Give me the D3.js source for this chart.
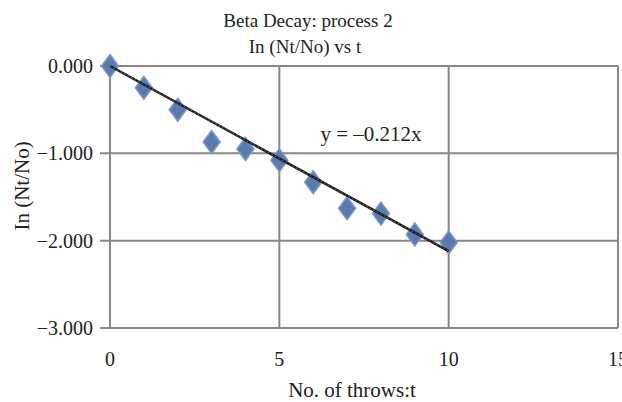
<!DOCTYPE html>
<html>
<head>
<meta charset="utf-8" />
<title>Beta Decay</title>
<script src="https://d3js.org/d3.v7.min.js"></script>
<style>
  body { margin: 0; background: #fff; }
  text { font-family: "Liberation Serif", "Times New Roman", serif; fill: #222; }
</style>
</head>
<body>
<script>
// data
var throws = [0, 1, 2, 3, 4, 5, 6, 7, 8, 9, 10];
var lnRatio = [0.00, -0.25, -0.50, -0.87, -0.95, -1.08, -1.33, -1.63, -1.69, -1.93, -2.02];
var slope = -0.212;
var xTicks = [0, 5, 10, 15];
var yTicks = [0, -1, -2, -3];

var width = 622, height = 402;
var plotL = 110, plotR = 618, plotT = 66, plotB = 328;

var svg = d3.select('body').append('svg')
    .attr('width', width)
    .attr('height', height);

var x = d3.scaleLinear().domain([0, 15]).range([plotL, plotR]);
var y = d3.scaleLinear().domain([-3, 0]).range([plotB, plotT]);
var fmt = d3.format('.3f');
var gridColor = '#8b8682';

// grid
svg.append('g').selectAll('line')
    .data(yTicks)
    .enter().append('line')
    .attr('x1', plotL - 10).attr('x2', plotR)
    .attr('y1', d => y(d)).attr('y2', d => y(d))
    .attr('stroke', gridColor).attr('stroke-width', 2);

svg.append('g').selectAll('line')
    .data(xTicks)
    .enter().append('line')
    .attr('x1', d => x(d)).attr('x2', d => x(d))
    .attr('y1', plotT).attr('y2', plotB)
    .attr('stroke', gridColor).attr('stroke-width', 2);

// tick labels
svg.append('g').selectAll('text')
    .data(yTicks)
    .enter().append('text')
    .attr('x', 93)
    .attr('y', d => y(d) + 7)
    .attr('text-anchor', 'end')
    .style('font-size', '20px')
    .text(d => fmt(d).replace('-', '\u2013'));

svg.append('g').selectAll('text')
    .data(xTicks)
    .enter().append('text')
    .attr('x', d => x(d))
    .attr('y', 366)
    .attr('text-anchor', 'middle')
    .style('font-size', '20px')
    .text(d => d);

// markers
var diamond = 'M0,-11.5 L8.5,0 L0,11.5 L-8.5,0 Z';
svg.append('g').selectAll('path')
    .data(throws)
    .enter().append('path')
    .attr('d', diamond)
    .attr('transform', (d, i) => `translate(${x(d)},${y(lnRatio[i])})`)
    .attr('fill', '#5a7bb0')
    .attr('stroke', '#7b97c4')
    .attr('stroke-width', 1.5);

// trend line
svg.append('line')
    .attr('x1', x(0)).attr('y1', y(0))
    .attr('x2', x(10)).attr('y2', y(slope * 10))
    .attr('stroke', '#1a1a1a')
    .attr('stroke-width', 2.5);
svg.append('line')
    .attr('x1', x(0)).attr('y1', y(0))
    .attr('x2', x(10)).attr('y2', y(slope * 10))
    .attr('stroke', '#777')
    .attr('stroke-width', 1)
    .attr('stroke-dasharray', '1.5,2.5');

svg.append('text')
    .attr('x', 371).attr('y', 141)
    .attr('text-anchor', 'middle')
    .style('font-size', '21px')
    .text('y = \u20130.212x');

// titles
svg.append('text')
    .attr('x', 308).attr('y', 27)
    .attr('text-anchor', 'middle')
    .style('font-size', '19px')
    .text('Beta Decay: process 2');
svg.append('text')
    .attr('x', 305).attr('y', 53)
    .attr('text-anchor', 'middle')
    .style('font-size', '19px')
    .text('In (Nt/No) vs t');

svg.append('text')
    .attr('x', 352).attr('y', 397)
    .attr('text-anchor', 'middle')
    .style('font-size', '21px')
    .text('No. of throws:t');

svg.append('text')
    .attr('transform', 'translate(29,186) rotate(-90)')
    .attr('text-anchor', 'middle')
    .style('font-size', '21px')
    .text('In (Nt/No)');
</script>
</body>
</html>
